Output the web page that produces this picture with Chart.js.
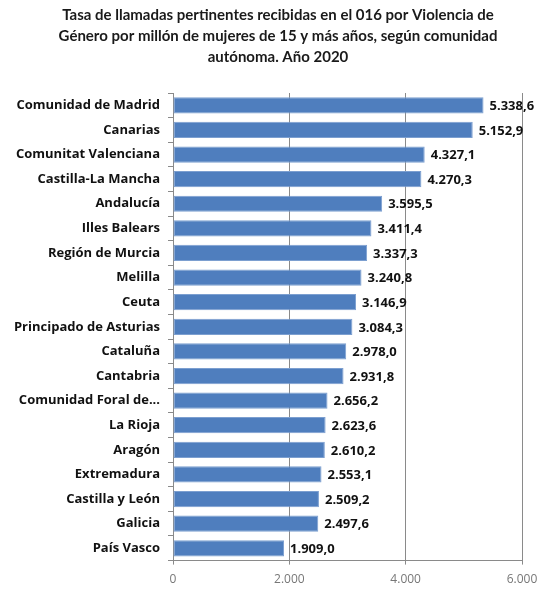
<!DOCTYPE html>
<html>
<head>
<meta charset="utf-8">
<script src="https://cdn.jsdelivr.net/npm/chart.js@4/dist/chart.umd.min.js"></script>
<style>
  html, body { margin: 0; padding: 0; background: #ffffff; }
  #wrap { width: 543px; height: 591px; position: relative; }
</style>
</head>
<body>
<div id="wrap"><canvas id="c" width="543" height="591"></canvas></div>
<script>
const titleLines = [
  "Tasa de llamadas pertinentes recibidas en el 016 por Violencia de",
  "Género por millón de mujeres de 15 y más años, según comunidad",
  "autónoma. Año 2020"
];
const categories = [
  "Comunidad de Madrid", "Canarias", "Comunitat Valenciana", "Castilla-La Mancha",
  "Andalucía", "Illes Balears", "Región de Murcia", "Melilla", "Ceuta",
  "Principado de Asturias", "Cataluña", "Cantabria", "Comunidad Foral de...",
  "La Rioja", "Aragón", "Extremadura", "Castilla y León", "Galicia", "País Vasco"
];
const rates = [
  5338.6, 5152.9, 4327.1, 4270.3, 3595.5, 3411.4, 3337.3, 3240.8, 3146.9,
  3084.3, 2978.0, 2931.8, 2656.2, 2623.6, 2610.2, 2553.1, 2509.2, 2497.6, 1909.0
];
const xTicks = [0, 2000, 4000, 6000];

function fmtES(v, dec) {
  const s = v.toFixed(dec);
  const parts = s.split(".");
  const intp = parts[0].replace(/\B(?=(\d{3})+(?!\d))/g, ".");
  return parts.length > 1 ? intp + "," + parts[1] : intp;
}

const FONT = "'Open Sans', 'Lato', sans-serif";
const TITLE_FONT = "'Lato', 'Open Sans', sans-serif";

const titleBlock = {
  id: "titleBlock",
  afterDraw(chart) {
    const ctx = chart.ctx;
    ctx.save();
    ctx.font = "bold 15px " + TITLE_FONT;
    ctx.fillStyle = "#1a1a1a";
    ctx.textAlign = "center";
    ctx.textBaseline = "middle";
    const cx = 278, y0 = 15, lh = 21;
    titleLines.forEach((t, i) => ctx.fillText(t, cx, y0 + i * lh));
    ctx.restore();
  }
};

const valueLabels = {
  id: "valueLabels",
  afterDatasetsDraw(chart) {
    const ctx = chart.ctx;
    const meta = chart.getDatasetMeta(0);
    ctx.save();
    ctx.font = "bold 13px " + FONT;
    ctx.fillStyle = "#111111";
    ctx.textAlign = "left";
    ctx.textBaseline = "middle";
    meta.data.forEach((bar, i) => {
      ctx.fillText(fmtES(rates[i], 1), bar.x + 6, bar.y + 1);
    });
    ctx.restore();
  }
};

new Chart(document.getElementById("c"), {
  type: "bar",
  data: {
    labels: categories,
    datasets: [{
      data: rates,
      backgroundColor: "#4F7EBE",
      borderColor: "#7C9FD0",
      borderWidth: 1,
      borderSkipped: false,
      categoryPercentage: 1.0,
      barPercentage: 0.66
    }]
  },
  options: {
    indexAxis: "y",
    responsive: false,
    animation: false,
    layout: { padding: { left: 0, right: 21, top: 93, bottom: -4 } },
    plugins: {
      legend: { display: false },
      tooltip: { enabled: false },
      title: { display: false }
    },
    scales: {
      x: {
        min: 0, max: 6000,
        afterBuildTicks(scale) { scale.ticks = xTicks.map(v => ({ value: v })); },
        afterFit(scale) { scale.paddingRight = 0; scale.paddingLeft = 0; },
        ticks: {
          color: "#777777",
          font: { family: FONT, size: 12 },
          padding: 8,
          callback: (v) => fmtES(v, 0)
        },
        grid: {
          color: "#8a8a8a",
          lineWidth: 1,
          drawTicks: true,
          tickLength: 4
        },
        border: { display: true, color: "#8a8a8a" }
      },
      y: {
        afterFit(scale) { scale.width = 173; },
        ticks: {
          color: "#111111",
          font: { family: FONT, size: 13, weight: "bold" },
          padding: 8,
          autoSkip: false
        },
        grid: {
          offset: true,
          drawOnChartArea: false,
          drawTicks: true,
          tickLength: 5,
          color: "#8a8a8a"
        },
        border: { display: true, color: "#8a8a8a" }
      }
    }
  },
  plugins: [valueLabels, titleBlock]
});
</script>
</body>
</html>
